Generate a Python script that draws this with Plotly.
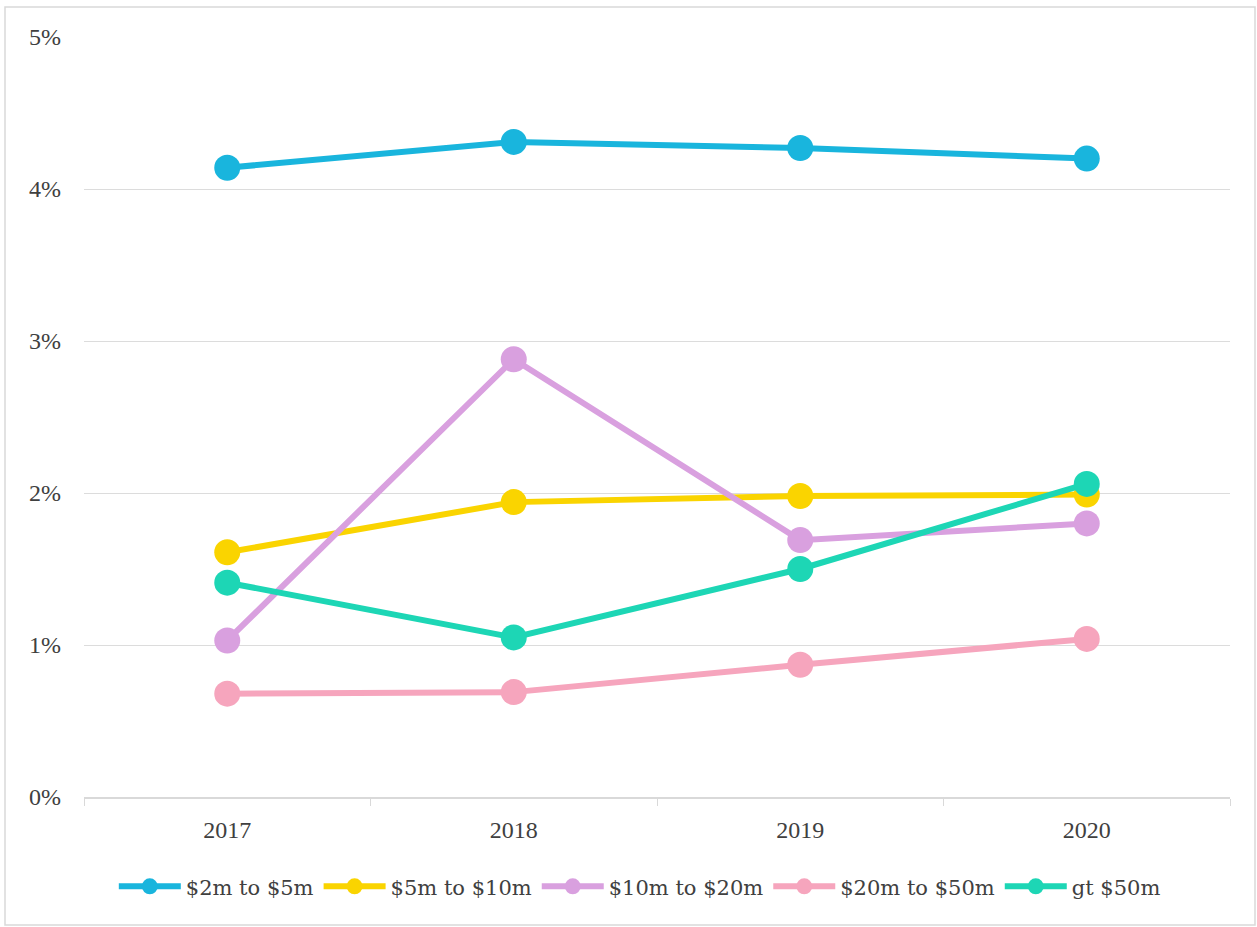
import plotly.graph_objects as go

years = ["2017", "2018", "2019", "2020"]
series_names = ["$2m to $5m", "$5m to $10m", "$10m to $20m", "$20m to $50m", "gt $50m"]
s_2_5 = [0.0414, 0.0431, 0.0427, 0.0420]
s_5_10 = [0.0161, 0.0194, 0.0198, 0.0199]
s_10_20 = [0.0103, 0.0288, 0.0169, 0.0180]
s_20_50 = [0.0068, 0.0069, 0.0087, 0.0104]
s_gt_50 = [0.0141, 0.0105, 0.0150, 0.0206]
colors = ["#19b5dd", "#fad400", "#d9a0df", "#f6a5bd", "#1dd6b5"]

values = [s_2_5, s_5_10, s_10_20, s_20_50, s_gt_50]

fig = go.Figure()
for name, vals, col in zip(series_names, values, colors):
    fig.add_trace(go.Scatter(
        x=years, y=vals, name=name, mode="lines+markers",
        line=dict(color=col, width=6),
        marker=dict(color=col, size=26),
    ))

font_family = "Liberation Serif, DejaVu Serif, serif"

fig.update_layout(
    width=1257, height=927,
    margin=dict(l=84, r=27, t=37, b=130),
    paper_bgcolor="white", plot_bgcolor="white",
    font=dict(family=font_family, size=24, color="#404040"),
    showlegend=True,
    legend=dict(orientation="h", x=0.485, xanchor="center", y=-0.118, yanchor="middle",
                font=dict(family="DejaVu Serif, serif", size=21, color="#404040"),
                itemwidth=62, tracegroupgap=0),
    xaxis=dict(type="category", range=[-0.5, 3.5], showgrid=False,
               showline=True, linecolor="#d9d9d9", linewidth=1.5,
               ticks="outside", tickson="boundaries", ticklen=7, tickcolor="#d9d9d9",
               tickfont=dict(size=24, color="#404040"), ticklabelstandoff=10),
    yaxis=dict(range=[0, 0.05], tickvals=[0, 0.01, 0.02, 0.03, 0.04, 0.05],
               tickformat=".0%", showgrid=True, gridcolor="#dcdcdc", gridwidth=1,
               zeroline=False, showline=False, ticklabelstandoff=22,
               tickfont=dict(size=24, color="#404040")),
    shapes=[dict(type="rect", xref="paper", yref="paper",
                 x0=(5 - 84) / 1146, x1=(1255 - 84) / 1146,
                 y0=(797 - 925) / 760, y1=(797 - 7) / 760,
                 line=dict(color="#d9d9d9", width=1.5), fillcolor="rgba(0,0,0,0)",
                 layer="below")],
)

fig.write_html("out.html")
